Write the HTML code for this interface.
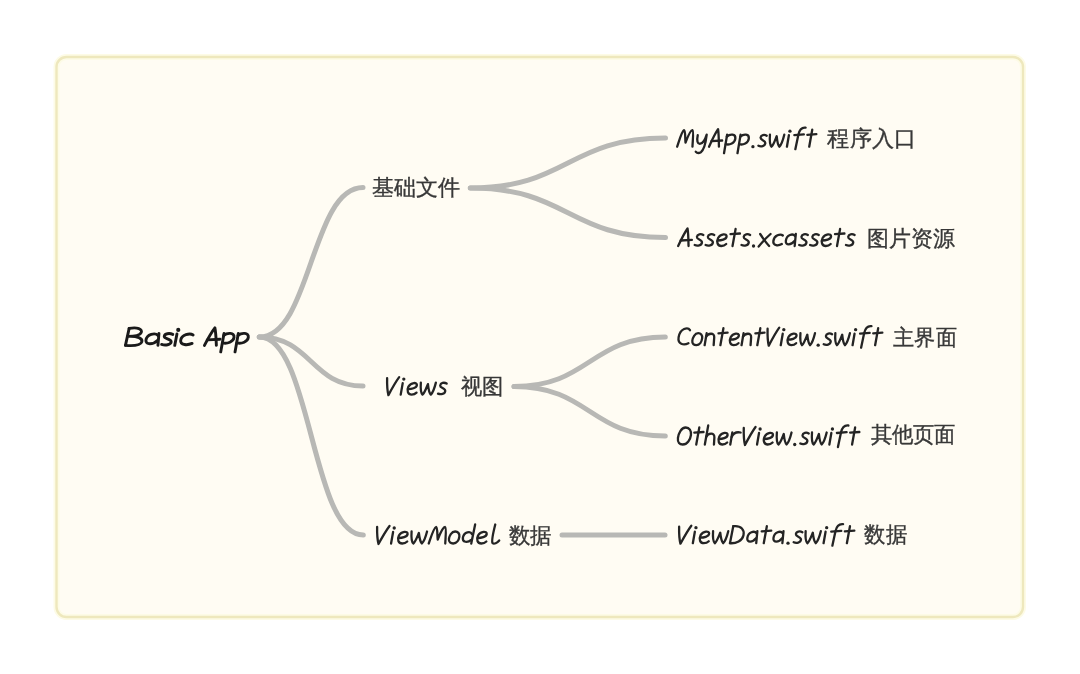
<!DOCTYPE html>
<html><head><meta charset="utf-8">
<style>
html,body{margin:0;padding:0;background:#ffffff;}
body{width:1080px;height:674px;position:relative;overflow:hidden;font-family:"Liberation Sans",sans-serif;}
svg{position:absolute;left:0;top:0;will-change:transform;}
</style></head><body>
<svg width="1080" height="674" viewBox="0 0 1080 674">
  <rect x="56.5" y="57" width="966.5" height="560" rx="10" ry="10" fill="#fffcf3"/>
  <rect x="56.5" y="57" width="966.5" height="560" rx="10" ry="10" fill="none" stroke="#fdfbe6" stroke-width="6"/>
  <rect x="56.5" y="57" width="966.5" height="560" rx="10" ry="10" fill="none" stroke="#eee8bd" stroke-width="2.4"/>
  <g fill="none" stroke="#b8b8b5" stroke-width="5.0" stroke-linecap="round">
    <path d="M259.3 337 C311.1 337 311.1 187.5 363 187.5"/>
    <path d="M259.3 337 C311.1 337 311.1 386 363 386"/>
    <path d="M259.3 337 C311.3 337 311.3 535 363.3 535"/>
    <path d="M470.3 188 C567.9 188 567.9 138 665.5 138"/>
    <path d="M470.3 188 C567.9 188 567.9 237.5 665.5 237.5"/>
    <path d="M514 386.5 C589.6 386.5 589.6 337 665.3 337"/>
    <path d="M514 386.5 C589.6 386.5 589.6 436 665.3 436"/>
    <path d="M562 535 L665 535"/>
  </g>
<g fill="none" stroke="#1a1a1a" stroke-width="2.9" stroke-linecap="round" stroke-linejoin="round"><path d="M1.2 -17 L0 0" vector-effect="non-scaling-stroke" transform="translate(125.45 345.4) matrix(1.3844 0 -0.1200 1.0000 0 0)"/><path d="M1.2 -17 C7 -18.5 11 -16.5 10.3 -12.8 C9.8 -10 5.5 -9 1 -9 C8 -9.5 12 -7 11.5 -3.5 C11 0 5 0.5 0 0" vector-effect="non-scaling-stroke" transform="translate(125.45 345.4) matrix(1.3844 0 -0.1200 1.0000 0 0)"/><path d="M8.8 -10 C6.5 -12.8 0.5 -11.5 0.5 -5 C0.5 -0.5 6 -0.5 8.8 -5" vector-effect="non-scaling-stroke" transform="translate(144.65 345.4) matrix(1.3844 0 -0.1200 1.0000 0 0)"/><path d="M9.3 -12 L9.6 0" vector-effect="non-scaling-stroke" transform="translate(144.65 345.4) matrix(1.3844 0 -0.1200 1.0000 0 0)"/><path d="M7.5 -11 C5 -12.5 1.5 -12 1.5 -9 C1.5 -6.5 7 -6.5 7 -3.5 C7 -0.5 3 0.2 0.3 -1" vector-effect="non-scaling-stroke" transform="translate(161.08 345.4) matrix(1.3844 0 -0.1200 1.0000 0 0)"/><path d="M1.6 -11.5 L1 0" vector-effect="non-scaling-stroke" transform="translate(173.35 345.4) matrix(1.3844 0 -0.1200 1.0000 0 0)"/><circle cx="178.26" cy="329.90" r="2.09" fill="#1a1a1a" stroke="none"/><path d="M8.5 -10.5 C6 -12.5 0 -11 0 -5 C0 0 5.5 0 8.5 -2" vector-effect="non-scaling-stroke" transform="translate(180.09 345.4) matrix(1.3844 0 -0.1200 1.0000 0 0)"/></g>
<g fill="none" stroke="#1a1a1a" stroke-width="2.9" stroke-linecap="round" stroke-linejoin="round"><path d="M0 0 C2 -6 4.5 -13 7 -17.5 C8.3 -13 9.2 -6 10 0" vector-effect="non-scaling-stroke" transform="translate(204.45 345.4) matrix(1.1914 0 -0.1200 1.0000 0 0)"/><path d="M1.8 -5.5 L12.5 -6.2" vector-effect="non-scaling-stroke" transform="translate(204.45 345.4) matrix(1.1914 0 -0.1200 1.0000 0 0)"/><path d="M1.2 -12 L0.3 6.5" vector-effect="non-scaling-stroke" transform="translate(221.14 345.4) matrix(1.1914 0 -0.1200 1.0000 0 0)"/><path d="M1.2 -10 C4 -13 10 -13 10 -8 C10 -3.5 5 -1.5 1 -2.5" vector-effect="non-scaling-stroke" transform="translate(221.14 345.4) matrix(1.1914 0 -0.1200 1.0000 0 0)"/><path d="M1.2 -12 L0.3 6.5" vector-effect="non-scaling-stroke" transform="translate(235.44 345.4) matrix(1.1914 0 -0.1200 1.0000 0 0)"/><path d="M1.2 -10 C4 -13 10 -13 10 -8 C10 -3.5 5 -1.5 1 -2.5" vector-effect="non-scaling-stroke" transform="translate(235.44 345.4) matrix(1.1914 0 -0.1200 1.0000 0 0)"/></g>
<text x="371.60" y="195.00" textLength="88.40" lengthAdjust="spacingAndGlyphs" style='font-family:"Liberation Sans",sans-serif;font-size:22px;fill:#383838;stroke:#383838;stroke-width:0.35px'>基础文件</text>
<g fill="none" stroke="#242424" stroke-width="2.3" stroke-linecap="round" stroke-linejoin="round"><path d="M0 -16.5 C0.6 -10 1.6 -4 3.2 0.5 C5.8 -6 8.8 -13 11.5 -17.5" vector-effect="non-scaling-stroke" transform="translate(385.15 394.6) matrix(1.0371 0 -0.1200 1.0000 0 0)"/><path d="M1.6 -11.5 L1 0" vector-effect="non-scaling-stroke" transform="translate(399.68 394.6) matrix(1.0371 0 -0.1200 1.0000 0 0)"/><circle cx="403.82" cy="379.10" r="1.66" fill="#242424" stroke="none"/><path d="M1 -5.5 C4 -5.5 9 -6.5 9 -9.5 C9 -12.5 3 -12.5 1 -8 C-0.5 -4 1.5 0 5 0 C7 0 8.5 -0.8 9.5 -2" vector-effect="non-scaling-stroke" transform="translate(406.43 394.6) matrix(1.0371 0 -0.1200 1.0000 0 0)"/><path d="M0 -12 C0.3 -6 1.3 -1.5 3 0 C4.8 -1.5 6 -7 7 -10.5 C8 -6 9.3 -1.5 11 0 C12.8 -2 14 -8 14.5 -12" vector-effect="non-scaling-stroke" transform="translate(419.40 394.6) matrix(1.0371 0 -0.1200 1.0000 0 0)"/><path d="M7.5 -11 C5 -12.5 1.5 -12 1.5 -9 C1.5 -6.5 7 -6.5 7 -3.5 C7 -0.5 3 0.2 0.3 -1" vector-effect="non-scaling-stroke" transform="translate(437.55 394.6) matrix(1.0371 0 -0.1200 1.0000 0 0)"/></g>
<text x="461.00" y="394.40" textLength="42.60" lengthAdjust="spacingAndGlyphs" style='font-family:"Liberation Sans",sans-serif;font-size:22px;fill:#383838;stroke:#383838;stroke-width:0.35px'>视图</text>
<g fill="none" stroke="#242424" stroke-width="2.3" stroke-linecap="round" stroke-linejoin="round"><path d="M0 -16.5 C0.6 -10 1.6 -4 3.2 0.5 C5.8 -6 8.8 -13 11.5 -17.5" vector-effect="non-scaling-stroke" transform="translate(375.15 543.5) matrix(1.0663 0 -0.1200 1.0000 0 0)"/><path d="M1.6 -11.5 L1 0" vector-effect="non-scaling-stroke" transform="translate(390.01 543.5) matrix(1.0663 0 -0.1200 1.0000 0 0)"/><circle cx="394.22" cy="528.00" r="1.66" fill="#242424" stroke="none"/><path d="M1 -5.5 C4 -5.5 9 -6.5 9 -9.5 C9 -12.5 3 -12.5 1 -8 C-0.5 -4 1.5 0 5 0 C7 0 8.5 -0.8 9.5 -2" vector-effect="non-scaling-stroke" transform="translate(396.88 543.5) matrix(1.0663 0 -0.1200 1.0000 0 0)"/><path d="M0 -12 C0.3 -6 1.3 -1.5 3 0 C4.8 -1.5 6 -7 7 -10.5 C8 -6 9.3 -1.5 11 0 C12.8 -2 14 -8 14.5 -12" vector-effect="non-scaling-stroke" transform="translate(410.14 543.5) matrix(1.0663 0 -0.1200 1.0000 0 0)"/><path d="M0 0 C1.5 -7 3 -16 5 -16.5 C6.5 -16.5 7 -8 8 -4 C9.5 -10 11.5 -16.5 13.5 -16.5 C15 -16 15 -6 15.5 0" vector-effect="non-scaling-stroke" transform="translate(428.74 543.5) matrix(1.0663 0 -0.1200 1.0000 0 0)"/><path d="M5 -12 C1.5 -12 0 -7.5 0 -4.5 C0 -1.2 2.3 0 4.5 0 C7.8 0 9.5 -3.5 9.5 -7 C9.5 -10 7.5 -12 5 -12 Z" vector-effect="non-scaling-stroke" transform="translate(448.40 543.5) matrix(1.0663 0 -0.1200 1.0000 0 0)"/><path d="M8.5 -9.5 C7 -12.5 1 -12 0.5 -6 C0.2 -1 5.5 -0.5 8.5 -3.5" vector-effect="non-scaling-stroke" transform="translate(461.66 543.5) matrix(1.0663 0 -0.1200 1.0000 0 0)"/><path d="M10.5 -19 L9 0" vector-effect="non-scaling-stroke" transform="translate(461.66 543.5) matrix(1.0663 0 -0.1200 1.0000 0 0)"/><path d="M1 -5.5 C4 -5.5 9 -6.5 9 -9.5 C9 -12.5 3 -12.5 1 -8 C-0.5 -4 1.5 0 5 0 C7 0 8.5 -0.8 9.5 -2" vector-effect="non-scaling-stroke" transform="translate(475.99 543.5) matrix(1.0663 0 -0.1200 1.0000 0 0)"/><path d="M3.5 -19 C2.5 -11 1.5 -3 3 -0.5 C4.5 1 7.5 -0.5 9 -3" vector-effect="non-scaling-stroke" transform="translate(489.25 543.5) matrix(1.0663 0 -0.1200 1.0000 0 0)"/></g>
<text x="508.70" y="542.50" textLength="42.80" lengthAdjust="spacingAndGlyphs" style='font-family:"Liberation Sans",sans-serif;font-size:22px;fill:#383838;stroke:#383838;stroke-width:0.35px'>数据</text>
<g fill="none" stroke="#242424" stroke-width="2.3" stroke-linecap="round" stroke-linejoin="round"><path d="M0 0 C1.5 -7 3 -16 5 -16.5 C6.5 -16.5 7 -8 8 -4 C9.5 -10 11.5 -16.5 13.5 -16.5 C15 -16 15 -6 15.5 0" vector-effect="non-scaling-stroke" transform="translate(677.15 146.7) matrix(0.9885 0 -0.1200 1.0000 0 0)"/><path d="M0.8 -11.5 C0.3 -6 1.5 -2.5 4.5 -3 C7.5 -3.5 9 -8 9.8 -12 C9.8 -4 9.5 3 6 5.5 C4 6.8 2 6.2 0.8 5" vector-effect="non-scaling-stroke" transform="translate(695.57 146.7) matrix(0.9885 0 -0.1200 1.0000 0 0)"/><path d="M0 0 C2 -6 4.5 -13 7 -17.5 C8.3 -13 9.2 -6 10 0" vector-effect="non-scaling-stroke" transform="translate(709.04 146.7) matrix(0.9885 0 -0.1200 1.0000 0 0)"/><path d="M1.8 -5.5 L12.5 -6.2" vector-effect="non-scaling-stroke" transform="translate(709.04 146.7) matrix(0.9885 0 -0.1200 1.0000 0 0)"/><path d="M1.2 -12 L0.3 6.5" vector-effect="non-scaling-stroke" transform="translate(724.49 146.7) matrix(0.9885 0 -0.1200 1.0000 0 0)"/><path d="M1.2 -10 C4 -13 10 -13 10 -8 C10 -3.5 5 -1.5 1 -2.5" vector-effect="non-scaling-stroke" transform="translate(724.49 146.7) matrix(0.9885 0 -0.1200 1.0000 0 0)"/><path d="M1.2 -12 L0.3 6.5" vector-effect="non-scaling-stroke" transform="translate(737.96 146.7) matrix(0.9885 0 -0.1200 1.0000 0 0)"/><path d="M1.2 -10 C4 -13 10 -13 10 -8 C10 -3.5 5 -1.5 1 -2.5" vector-effect="non-scaling-stroke" transform="translate(737.96 146.7) matrix(0.9885 0 -0.1200 1.0000 0 0)"/><circle cx="752.92" cy="146.70" r="1.66" fill="#242424" stroke="none"/><path d="M7.5 -11 C5 -12.5 1.5 -12 1.5 -9 C1.5 -6.5 7 -6.5 7 -3.5 C7 -0.5 3 0.2 0.3 -1" vector-effect="non-scaling-stroke" transform="translate(757.99 146.7) matrix(0.9885 0 -0.1200 1.0000 0 0)"/><path d="M0 -12 C0.3 -6 1.3 -1.5 3 0 C4.8 -1.5 6 -7 7 -10.5 C8 -6 9.3 -1.5 11 0 C12.8 -2 14 -8 14.5 -12" vector-effect="non-scaling-stroke" transform="translate(768.50 146.7) matrix(0.9885 0 -0.1200 1.0000 0 0)"/><path d="M1.6 -11.5 L1 0" vector-effect="non-scaling-stroke" transform="translate(785.93 146.7) matrix(0.9885 0 -0.1200 1.0000 0 0)"/><circle cx="789.96" cy="131.20" r="1.66" fill="#242424" stroke="none"/><path d="M11 -19 C7 -19.5 5 -17 4.5 -12 L3.2 2.5" vector-effect="non-scaling-stroke" transform="translate(792.48 146.7) matrix(0.9885 0 -0.1200 1.0000 0 0)"/><path d="M0.5 -11.5 L10 -12.3" vector-effect="non-scaling-stroke" transform="translate(792.48 146.7) matrix(0.9885 0 -0.1200 1.0000 0 0)"/><path d="M4.3 -17 L3.3 0" vector-effect="non-scaling-stroke" transform="translate(805.95 146.7) matrix(0.9885 0 -0.1200 1.0000 0 0)"/><path d="M0 -11.8 L9 -12.5" vector-effect="non-scaling-stroke" transform="translate(805.95 146.7) matrix(0.9885 0 -0.1200 1.0000 0 0)"/></g>
<text x="827.40" y="146.00" textLength="88.60" lengthAdjust="spacingAndGlyphs" style='font-family:"Liberation Sans",sans-serif;font-size:22px;fill:#383838;stroke:#383838;stroke-width:0.35px'>程序入口</text>
<g fill="none" stroke="#242424" stroke-width="2.3" stroke-linecap="round" stroke-linejoin="round"><path d="M0 0 C2 -6 4.5 -13 7 -17.5 C8.3 -13 9.2 -6 10 0" vector-effect="non-scaling-stroke" transform="translate(678.15 246) matrix(1.0396 0 -0.1200 1.0000 0 0)"/><path d="M1.8 -5.5 L12.5 -6.2" vector-effect="non-scaling-stroke" transform="translate(678.15 246) matrix(1.0396 0 -0.1200 1.0000 0 0)"/><path d="M7.5 -11 C5 -12.5 1.5 -12 1.5 -9 C1.5 -6.5 7 -6.5 7 -3.5 C7 -0.5 3 0.2 0.3 -1" vector-effect="non-scaling-stroke" transform="translate(694.26 246) matrix(1.0396 0 -0.1200 1.0000 0 0)"/><path d="M7.5 -11 C5 -12.5 1.5 -12 1.5 -9 C1.5 -6.5 7 -6.5 7 -3.5 C7 -0.5 3 0.2 0.3 -1" vector-effect="non-scaling-stroke" transform="translate(705.18 246) matrix(1.0396 0 -0.1200 1.0000 0 0)"/><path d="M1 -5.5 C4 -5.5 9 -6.5 9 -9.5 C9 -12.5 3 -12.5 1 -8 C-0.5 -4 1.5 0 5 0 C7 0 8.5 -0.8 9.5 -2" vector-effect="non-scaling-stroke" transform="translate(716.10 246) matrix(1.0396 0 -0.1200 1.0000 0 0)"/><path d="M4.3 -17 L3.3 0" vector-effect="non-scaling-stroke" transform="translate(729.09 246) matrix(1.0396 0 -0.1200 1.0000 0 0)"/><path d="M0 -11.8 L9 -12.5" vector-effect="non-scaling-stroke" transform="translate(729.09 246) matrix(1.0396 0 -0.1200 1.0000 0 0)"/><path d="M7.5 -11 C5 -12.5 1.5 -12 1.5 -9 C1.5 -6.5 7 -6.5 7 -3.5 C7 -0.5 3 0.2 0.3 -1" vector-effect="non-scaling-stroke" transform="translate(741.05 246) matrix(1.0396 0 -0.1200 1.0000 0 0)"/><circle cx="753.52" cy="246.00" r="1.66" fill="#242424" stroke="none"/><path d="M0 -12 C3 -8 6 -4 10 0" vector-effect="non-scaling-stroke" transform="translate(758.72 246) matrix(1.0396 0 -0.1200 1.0000 0 0)"/><path d="M10 -12 C6 -8 3 -4 0 0.5" vector-effect="non-scaling-stroke" transform="translate(758.72 246) matrix(1.0396 0 -0.1200 1.0000 0 0)"/><path d="M8.5 -10.5 C6 -12.5 0 -11 0 -5 C0 0 5.5 0 8.5 -2" vector-effect="non-scaling-stroke" transform="translate(772.76 246) matrix(1.0396 0 -0.1200 1.0000 0 0)"/><path d="M8.8 -10 C6.5 -12.8 0.5 -11.5 0.5 -5 C0.5 -0.5 6 -0.5 8.8 -5" vector-effect="non-scaling-stroke" transform="translate(784.71 246) matrix(1.0396 0 -0.1200 1.0000 0 0)"/><path d="M9.3 -12 L9.6 0" vector-effect="non-scaling-stroke" transform="translate(784.71 246) matrix(1.0396 0 -0.1200 1.0000 0 0)"/><path d="M7.5 -11 C5 -12.5 1.5 -12 1.5 -9 C1.5 -6.5 7 -6.5 7 -3.5 C7 -0.5 3 0.2 0.3 -1" vector-effect="non-scaling-stroke" transform="translate(798.75 246) matrix(1.0396 0 -0.1200 1.0000 0 0)"/><path d="M7.5 -11 C5 -12.5 1.5 -12 1.5 -9 C1.5 -6.5 7 -6.5 7 -3.5 C7 -0.5 3 0.2 0.3 -1" vector-effect="non-scaling-stroke" transform="translate(809.67 246) matrix(1.0396 0 -0.1200 1.0000 0 0)"/><path d="M1 -5.5 C4 -5.5 9 -6.5 9 -9.5 C9 -12.5 3 -12.5 1 -8 C-0.5 -4 1.5 0 5 0 C7 0 8.5 -0.8 9.5 -2" vector-effect="non-scaling-stroke" transform="translate(820.58 246) matrix(1.0396 0 -0.1200 1.0000 0 0)"/><path d="M4.3 -17 L3.3 0" vector-effect="non-scaling-stroke" transform="translate(833.58 246) matrix(1.0396 0 -0.1200 1.0000 0 0)"/><path d="M0 -11.8 L9 -12.5" vector-effect="non-scaling-stroke" transform="translate(833.58 246) matrix(1.0396 0 -0.1200 1.0000 0 0)"/><path d="M7.5 -11 C5 -12.5 1.5 -12 1.5 -9 C1.5 -6.5 7 -6.5 7 -3.5 C7 -0.5 3 0.2 0.3 -1" vector-effect="non-scaling-stroke" transform="translate(845.53 246) matrix(1.0396 0 -0.1200 1.0000 0 0)"/></g>
<text x="867.30" y="245.80" textLength="87.70" lengthAdjust="spacingAndGlyphs" style='font-family:"Liberation Sans",sans-serif;font-size:22px;fill:#383838;stroke:#383838;stroke-width:0.35px'>图片资源</text>
<g fill="none" stroke="#242424" stroke-width="2.3" stroke-linecap="round" stroke-linejoin="round"><path d="M11 -15 C8.5 -18.5 1 -17 0.5 -8 C0.2 -1 6.5 0.5 11 -2" vector-effect="non-scaling-stroke" transform="translate(677.15 345.2) matrix(1.0037 0 -0.1200 1.0000 0 0)"/><path d="M5 -12 C1.5 -12 0 -7.5 0 -4.5 C0 -1.2 2.3 0 4.5 0 C7.8 0 9.5 -3.5 9.5 -7 C9.5 -10 7.5 -12 5 -12 Z" vector-effect="non-scaling-stroke" transform="translate(691.79 345.2) matrix(1.0037 0 -0.1200 1.0000 0 0)"/><path d="M0.8 -12 L0.2 0" vector-effect="non-scaling-stroke" transform="translate(704.43 345.2) matrix(1.0037 0 -0.1200 1.0000 0 0)"/><path d="M0.6 -8.5 C2 -12 8.5 -13 8.8 -8 L9.2 0" vector-effect="non-scaling-stroke" transform="translate(704.43 345.2) matrix(1.0037 0 -0.1200 1.0000 0 0)"/><path d="M4.3 -17 L3.3 0" vector-effect="non-scaling-stroke" transform="translate(717.07 345.2) matrix(1.0037 0 -0.1200 1.0000 0 0)"/><path d="M0 -11.8 L9 -12.5" vector-effect="non-scaling-stroke" transform="translate(717.07 345.2) matrix(1.0037 0 -0.1200 1.0000 0 0)"/><path d="M1 -5.5 C4 -5.5 9 -6.5 9 -9.5 C9 -12.5 3 -12.5 1 -8 C-0.5 -4 1.5 0 5 0 C7 0 8.5 -0.8 9.5 -2" vector-effect="non-scaling-stroke" transform="translate(728.70 345.2) matrix(1.0037 0 -0.1200 1.0000 0 0)"/><path d="M0.8 -12 L0.2 0" vector-effect="non-scaling-stroke" transform="translate(741.34 345.2) matrix(1.0037 0 -0.1200 1.0000 0 0)"/><path d="M0.6 -8.5 C2 -12 8.5 -13 8.8 -8 L9.2 0" vector-effect="non-scaling-stroke" transform="translate(741.34 345.2) matrix(1.0037 0 -0.1200 1.0000 0 0)"/><path d="M4.3 -17 L3.3 0" vector-effect="non-scaling-stroke" transform="translate(753.98 345.2) matrix(1.0037 0 -0.1200 1.0000 0 0)"/><path d="M0 -11.8 L9 -12.5" vector-effect="non-scaling-stroke" transform="translate(753.98 345.2) matrix(1.0037 0 -0.1200 1.0000 0 0)"/><path d="M0 -16.5 C0.6 -10 1.6 -4 3.2 0.5 C5.8 -6 8.8 -13 11.5 -17.5" vector-effect="non-scaling-stroke" transform="translate(765.61 345.2) matrix(1.0037 0 -0.1200 1.0000 0 0)"/><path d="M1.6 -11.5 L1 0" vector-effect="non-scaling-stroke" transform="translate(779.75 345.2) matrix(1.0037 0 -0.1200 1.0000 0 0)"/><circle cx="783.82" cy="329.70" r="1.66" fill="#242424" stroke="none"/><path d="M1 -5.5 C4 -5.5 9 -6.5 9 -9.5 C9 -12.5 3 -12.5 1 -8 C-0.5 -4 1.5 0 5 0 C7 0 8.5 -0.8 9.5 -2" vector-effect="non-scaling-stroke" transform="translate(786.37 345.2) matrix(1.0037 0 -0.1200 1.0000 0 0)"/><path d="M0 -12 C0.3 -6 1.3 -1.5 3 0 C4.8 -1.5 6 -7 7 -10.5 C8 -6 9.3 -1.5 11 0 C12.8 -2 14 -8 14.5 -12" vector-effect="non-scaling-stroke" transform="translate(799.00 345.2) matrix(1.0037 0 -0.1200 1.0000 0 0)"/><circle cx="818.17" cy="345.20" r="1.66" fill="#242424" stroke="none"/><path d="M7.5 -11 C5 -12.5 1.5 -12 1.5 -9 C1.5 -6.5 7 -6.5 7 -3.5 C7 -0.5 3 0.2 0.3 -1" vector-effect="non-scaling-stroke" transform="translate(823.28 345.2) matrix(1.0037 0 -0.1200 1.0000 0 0)"/><path d="M0 -12 C0.3 -6 1.3 -1.5 3 0 C4.8 -1.5 6 -7 7 -10.5 C8 -6 9.3 -1.5 11 0 C12.8 -2 14 -8 14.5 -12" vector-effect="non-scaling-stroke" transform="translate(833.91 345.2) matrix(1.0037 0 -0.1200 1.0000 0 0)"/><path d="M1.6 -11.5 L1 0" vector-effect="non-scaling-stroke" transform="translate(851.56 345.2) matrix(1.0037 0 -0.1200 1.0000 0 0)"/><circle cx="855.63" cy="329.70" r="1.66" fill="#242424" stroke="none"/><path d="M11 -19 C7 -19.5 5 -17 4.5 -12 L3.2 2.5" vector-effect="non-scaling-stroke" transform="translate(858.18 345.2) matrix(1.0037 0 -0.1200 1.0000 0 0)"/><path d="M0.5 -11.5 L10 -12.3" vector-effect="non-scaling-stroke" transform="translate(858.18 345.2) matrix(1.0037 0 -0.1200 1.0000 0 0)"/><path d="M4.3 -17 L3.3 0" vector-effect="non-scaling-stroke" transform="translate(871.82 345.2) matrix(1.0037 0 -0.1200 1.0000 0 0)"/><path d="M0 -11.8 L9 -12.5" vector-effect="non-scaling-stroke" transform="translate(871.82 345.2) matrix(1.0037 0 -0.1200 1.0000 0 0)"/></g>
<text x="893.30" y="345.30" textLength="63.50" lengthAdjust="spacingAndGlyphs" style='font-family:"Liberation Sans",sans-serif;font-size:22px;fill:#383838;stroke:#383838;stroke-width:0.35px'>主界面</text>
<g fill="none" stroke="#242424" stroke-width="2.3" stroke-linecap="round" stroke-linejoin="round"><path d="M6.5 -17 C2 -17 0 -11 0 -6.5 C0 -2 2.5 0 5.5 0 C10 0 12.5 -5 12.5 -9.5 C12.5 -14 10 -17 6.5 -17 Z" vector-effect="non-scaling-stroke" transform="translate(677.15 444.5) matrix(1.0126 0 -0.1200 1.0000 0 0)"/><path d="M4.3 -17 L3.3 0" vector-effect="non-scaling-stroke" transform="translate(692.91 444.5) matrix(1.0126 0 -0.1200 1.0000 0 0)"/><path d="M0 -11.8 L9 -12.5" vector-effect="non-scaling-stroke" transform="translate(692.91 444.5) matrix(1.0126 0 -0.1200 1.0000 0 0)"/><path d="M1.3 -19 L0.2 0" vector-effect="non-scaling-stroke" transform="translate(704.63 444.5) matrix(1.0126 0 -0.1200 1.0000 0 0)"/><path d="M0.6 -7.5 C2 -11.5 8.5 -12.5 8.8 -7 L9.2 0" vector-effect="non-scaling-stroke" transform="translate(704.63 444.5) matrix(1.0126 0 -0.1200 1.0000 0 0)"/><path d="M1 -5.5 C4 -5.5 9 -6.5 9 -9.5 C9 -12.5 3 -12.5 1 -8 C-0.5 -4 1.5 0 5 0 C7 0 8.5 -0.8 9.5 -2" vector-effect="non-scaling-stroke" transform="translate(717.35 444.5) matrix(1.0126 0 -0.1200 1.0000 0 0)"/><path d="M0.8 -12 L0.2 0" vector-effect="non-scaling-stroke" transform="translate(730.08 444.5) matrix(1.0126 0 -0.1200 1.0000 0 0)"/><path d="M0.6 -7.5 C2 -11.5 5.5 -12.8 9 -12" vector-effect="non-scaling-stroke" transform="translate(730.08 444.5) matrix(1.0126 0 -0.1200 1.0000 0 0)"/><path d="M0 -16.5 C0.6 -10 1.6 -4 3.2 0.5 C5.8 -6 8.8 -13 11.5 -17.5" vector-effect="non-scaling-stroke" transform="translate(741.79 444.5) matrix(1.0126 0 -0.1200 1.0000 0 0)"/><path d="M1.6 -11.5 L1 0" vector-effect="non-scaling-stroke" transform="translate(756.04 444.5) matrix(1.0126 0 -0.1200 1.0000 0 0)"/><circle cx="760.13" cy="429.00" r="1.66" fill="#242424" stroke="none"/><path d="M1 -5.5 C4 -5.5 9 -6.5 9 -9.5 C9 -12.5 3 -12.5 1 -8 C-0.5 -4 1.5 0 5 0 C7 0 8.5 -0.8 9.5 -2" vector-effect="non-scaling-stroke" transform="translate(762.69 444.5) matrix(1.0126 0 -0.1200 1.0000 0 0)"/><path d="M0 -12 C0.3 -6 1.3 -1.5 3 0 C4.8 -1.5 6 -7 7 -10.5 C8 -6 9.3 -1.5 11 0 C12.8 -2 14 -8 14.5 -12" vector-effect="non-scaling-stroke" transform="translate(775.42 444.5) matrix(1.0126 0 -0.1200 1.0000 0 0)"/><circle cx="794.72" cy="444.50" r="1.66" fill="#242424" stroke="none"/><path d="M7.5 -11 C5 -12.5 1.5 -12 1.5 -9 C1.5 -6.5 7 -6.5 7 -3.5 C7 -0.5 3 0.2 0.3 -1" vector-effect="non-scaling-stroke" transform="translate(799.86 444.5) matrix(1.0126 0 -0.1200 1.0000 0 0)"/><path d="M0 -12 C0.3 -6 1.3 -1.5 3 0 C4.8 -1.5 6 -7 7 -10.5 C8 -6 9.3 -1.5 11 0 C12.8 -2 14 -8 14.5 -12" vector-effect="non-scaling-stroke" transform="translate(810.56 444.5) matrix(1.0126 0 -0.1200 1.0000 0 0)"/><path d="M1.6 -11.5 L1 0" vector-effect="non-scaling-stroke" transform="translate(828.35 444.5) matrix(1.0126 0 -0.1200 1.0000 0 0)"/><circle cx="832.43" cy="429.00" r="1.66" fill="#242424" stroke="none"/><path d="M11 -19 C7 -19.5 5 -17 4.5 -12 L3.2 2.5" vector-effect="non-scaling-stroke" transform="translate(835.00 444.5) matrix(1.0126 0 -0.1200 1.0000 0 0)"/><path d="M0.5 -11.5 L10 -12.3" vector-effect="non-scaling-stroke" transform="translate(835.00 444.5) matrix(1.0126 0 -0.1200 1.0000 0 0)"/><path d="M4.3 -17 L3.3 0" vector-effect="non-scaling-stroke" transform="translate(848.74 444.5) matrix(1.0126 0 -0.1200 1.0000 0 0)"/><path d="M0 -11.8 L9 -12.5" vector-effect="non-scaling-stroke" transform="translate(848.74 444.5) matrix(1.0126 0 -0.1200 1.0000 0 0)"/></g>
<text x="870.50" y="442.00" textLength="85.30" lengthAdjust="spacingAndGlyphs" style='font-family:"Liberation Sans",sans-serif;font-size:22px;fill:#383838;stroke:#383838;stroke-width:0.35px'>其他页面</text>
<g fill="none" stroke="#242424" stroke-width="2.3" stroke-linecap="round" stroke-linejoin="round"><path d="M0 -16.5 C0.6 -10 1.6 -4 3.2 0.5 C5.8 -6 8.8 -13 11.5 -17.5" vector-effect="non-scaling-stroke" transform="translate(677.15 543.2) matrix(1.0472 0 -0.1200 1.0000 0 0)"/><path d="M1.6 -11.5 L1 0" vector-effect="non-scaling-stroke" transform="translate(691.79 543.2) matrix(1.0472 0 -0.1200 1.0000 0 0)"/><circle cx="695.96" cy="527.70" r="1.66" fill="#242424" stroke="none"/><path d="M1 -5.5 C4 -5.5 9 -6.5 9 -9.5 C9 -12.5 3 -12.5 1 -8 C-0.5 -4 1.5 0 5 0 C7 0 8.5 -0.8 9.5 -2" vector-effect="non-scaling-stroke" transform="translate(698.58 543.2) matrix(1.0472 0 -0.1200 1.0000 0 0)"/><path d="M0 -12 C0.3 -6 1.3 -1.5 3 0 C4.8 -1.5 6 -7 7 -10.5 C8 -6 9.3 -1.5 11 0 C12.8 -2 14 -8 14.5 -12" vector-effect="non-scaling-stroke" transform="translate(711.65 543.2) matrix(1.0472 0 -0.1200 1.0000 0 0)"/><path d="M1.2 -17 L0 0" vector-effect="non-scaling-stroke" transform="translate(729.96 543.2) matrix(1.0472 0 -0.1200 1.0000 0 0)"/><path d="M1.2 -17 C9 -18 12.5 -13 12 -8 C11.5 -2.5 6 0.5 0 0" vector-effect="non-scaling-stroke" transform="translate(729.96 543.2) matrix(1.0472 0 -0.1200 1.0000 0 0)"/><path d="M8.8 -10 C6.5 -12.8 0.5 -11.5 0.5 -5 C0.5 -0.5 6 -0.5 8.8 -5" vector-effect="non-scaling-stroke" transform="translate(746.18 543.2) matrix(1.0472 0 -0.1200 1.0000 0 0)"/><path d="M9.3 -12 L9.6 0" vector-effect="non-scaling-stroke" transform="translate(746.18 543.2) matrix(1.0472 0 -0.1200 1.0000 0 0)"/><path d="M4.3 -17 L3.3 0" vector-effect="non-scaling-stroke" transform="translate(760.30 543.2) matrix(1.0472 0 -0.1200 1.0000 0 0)"/><path d="M0 -11.8 L9 -12.5" vector-effect="non-scaling-stroke" transform="translate(760.30 543.2) matrix(1.0472 0 -0.1200 1.0000 0 0)"/><path d="M8.8 -10 C6.5 -12.8 0.5 -11.5 0.5 -5 C0.5 -0.5 6 -0.5 8.8 -5" vector-effect="non-scaling-stroke" transform="translate(772.32 543.2) matrix(1.0472 0 -0.1200 1.0000 0 0)"/><path d="M9.3 -12 L9.6 0" vector-effect="non-scaling-stroke" transform="translate(772.32 543.2) matrix(1.0472 0 -0.1200 1.0000 0 0)"/><circle cx="788.01" cy="543.20" r="1.66" fill="#242424" stroke="none"/><path d="M7.5 -11 C5 -12.5 1.5 -12 1.5 -9 C1.5 -6.5 7 -6.5 7 -3.5 C7 -0.5 3 0.2 0.3 -1" vector-effect="non-scaling-stroke" transform="translate(793.23 543.2) matrix(1.0472 0 -0.1200 1.0000 0 0)"/><path d="M0 -12 C0.3 -6 1.3 -1.5 3 0 C4.8 -1.5 6 -7 7 -10.5 C8 -6 9.3 -1.5 11 0 C12.8 -2 14 -8 14.5 -12" vector-effect="non-scaling-stroke" transform="translate(804.21 543.2) matrix(1.0472 0 -0.1200 1.0000 0 0)"/><path d="M1.6 -11.5 L1 0" vector-effect="non-scaling-stroke" transform="translate(822.52 543.2) matrix(1.0472 0 -0.1200 1.0000 0 0)"/><circle cx="826.68" cy="527.70" r="1.66" fill="#242424" stroke="none"/><path d="M11 -19 C7 -19.5 5 -17 4.5 -12 L3.2 2.5" vector-effect="non-scaling-stroke" transform="translate(829.31 543.2) matrix(1.0472 0 -0.1200 1.0000 0 0)"/><path d="M0.5 -11.5 L10 -12.3" vector-effect="non-scaling-stroke" transform="translate(829.31 543.2) matrix(1.0472 0 -0.1200 1.0000 0 0)"/><path d="M4.3 -17 L3.3 0" vector-effect="non-scaling-stroke" transform="translate(843.42 543.2) matrix(1.0472 0 -0.1200 1.0000 0 0)"/><path d="M0 -11.8 L9 -12.5" vector-effect="non-scaling-stroke" transform="translate(843.42 543.2) matrix(1.0472 0 -0.1200 1.0000 0 0)"/></g>
<text x="864.30" y="542.00" textLength="42.70" lengthAdjust="spacingAndGlyphs" style='font-family:"Liberation Sans",sans-serif;font-size:22px;fill:#383838;stroke:#383838;stroke-width:0.35px'>数据</text>
</svg>
</body></html>
